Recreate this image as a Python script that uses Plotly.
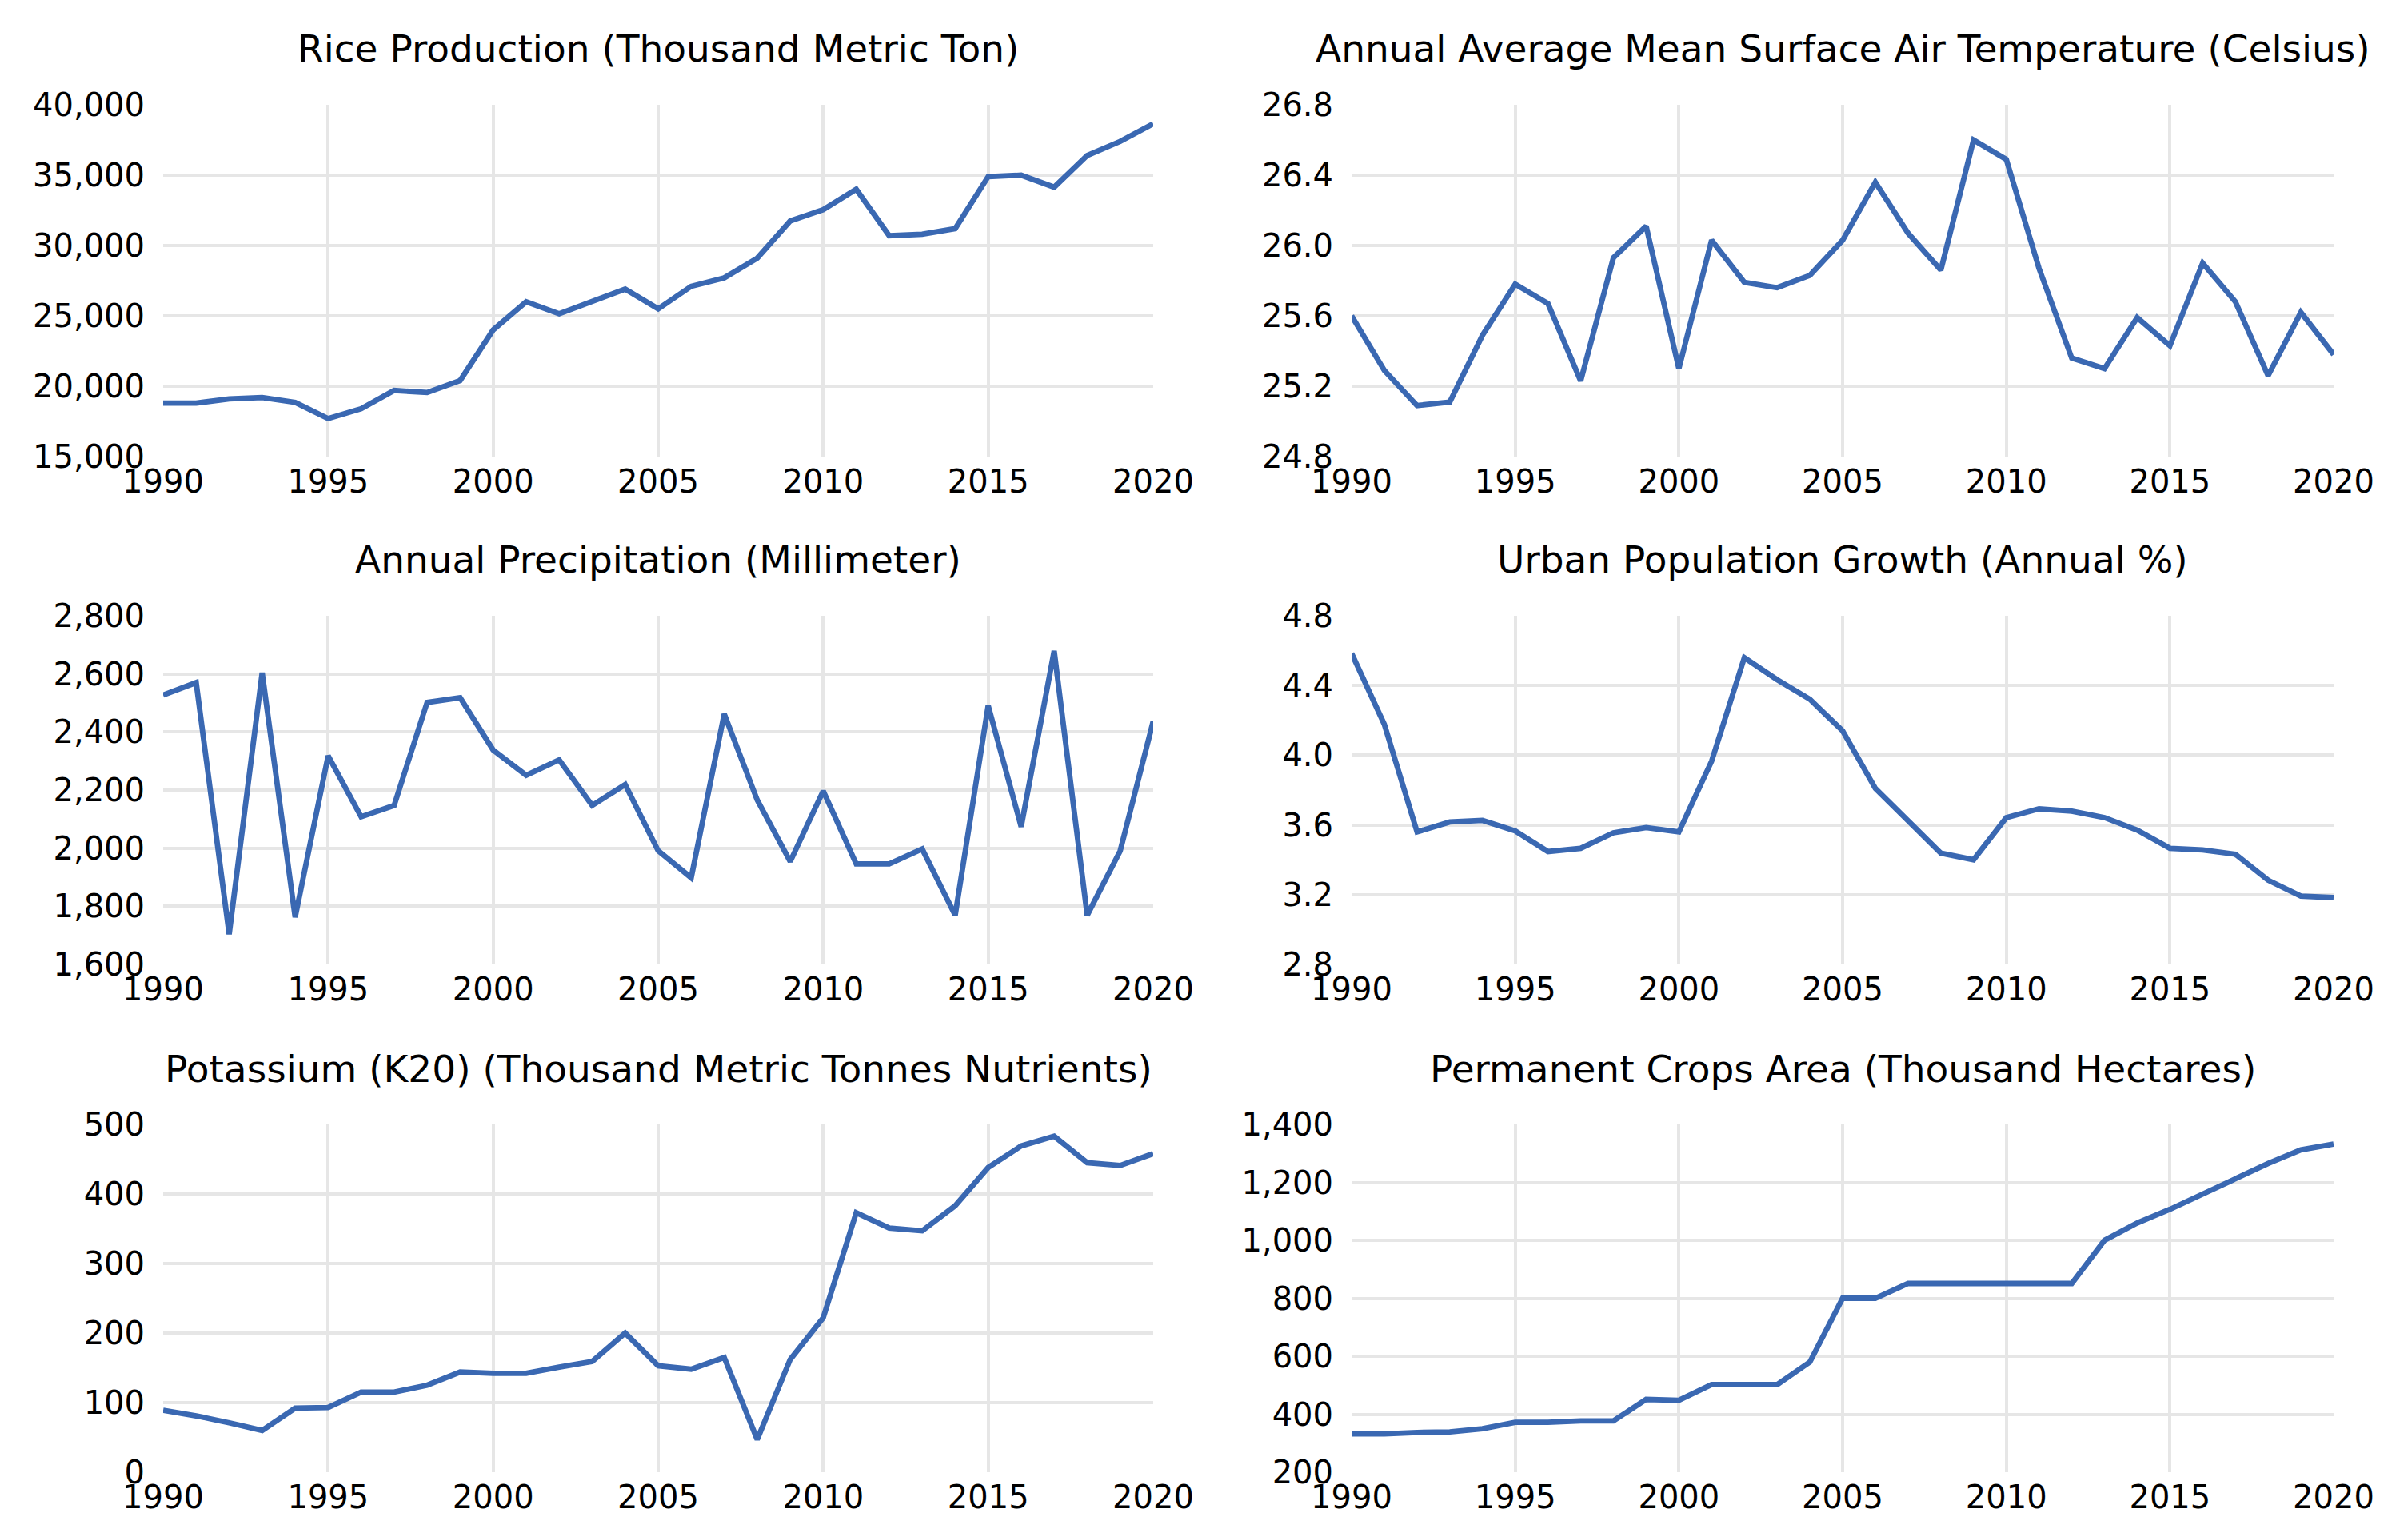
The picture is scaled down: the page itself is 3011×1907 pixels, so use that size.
import plotly.graph_objects as go

years = list(range(1990, 2021))

rice_production = [18800, 18800, 19100, 19200, 18850, 17700, 18400, 19700, 19550, 20400,
                   24000, 26000, 25150, 26000, 26900, 25500, 27100, 27700, 29100, 31750,
                   32550, 34000, 30700, 30800, 31200, 34900, 35000, 34150, 36400, 37400,
                   38650]

air_temperature = [25.60, 25.29, 25.09, 25.11, 25.49, 25.78, 25.67, 25.23, 25.93, 26.11,
                   25.30, 26.03, 25.79, 25.76, 25.83, 26.03, 26.36, 26.07, 25.86, 26.60,
                   26.49, 25.87, 25.36, 25.30, 25.59, 25.43, 25.90, 25.68, 25.26, 25.62,
                   25.38]

precipitation = [2527, 2570, 1704, 2604, 1762, 2318, 2108, 2147, 2502, 2518,
                 2338, 2251, 2304, 2147, 2219, 1991, 1898, 2462, 2166, 1954,
                 2197, 1946, 1946, 1997, 1769, 2491, 2074, 2679, 1769, 1991,
                 2437]

urban_growth = [4.585, 4.177, 3.560, 3.617, 3.626, 3.566, 3.447, 3.466, 3.555, 3.585,
                3.560, 3.966, 4.560, 4.434, 4.321, 4.140, 3.810, 3.623, 3.438, 3.400,
                3.642, 3.692, 3.679, 3.642, 3.570, 3.466, 3.457, 3.432, 3.283, 3.192,
                3.183]

potassium = [89, 81, 71, 60, 92, 93, 115, 115, 125, 144,
             142, 142, 151, 159, 200, 153, 148, 165, 47, 162,
             222, 373, 351, 347, 383, 438, 469, 483, 445, 441,
             458]

crops_area = [332, 332, 337, 339, 350, 372, 372, 377, 377, 451,
              448, 502, 502, 502, 580, 800, 800, 851, 851, 851,
              851, 851, 851, 1000, 1060, 1107, 1160, 1214, 1265, 1312,
              1332]

titles = ['Rice Production (Thousand Metric Ton)',
          'Annual Average Mean Surface Air Temperature (Celsius)',
          'Annual Precipitation (Millimeter)',
          'Urban Population Growth (Annual %)',
          'Potassium (K20) (Thousand Metric Tonnes Nutrients)',
          'Permanent Crops Area (Thousand Hectares)']

series = [rice_production, air_temperature, precipitation,
          urban_growth, potassium, crops_area]

y_ranges = [[15000, 40000], [24.8, 26.8], [1600, 2800],
            [2.8, 4.8], [0, 500], [200, 1400]]
y_dticks = [5000, 0.4, 200, 0.4, 100, 200]
y_formats = [',d', '.1f', ',d', '.1f', ',d', ',d']

# figure size; page body adds an 8px margin, so pixel boxes are shifted by it
W, H = 3011, 1907
col_px = [(196, 1434), (1682, 2910)]
row_px = [(123, 563), (762, 1198), (1398, 1833)]

LINE_COLOR = '#3A68B2'
GRID_COLOR = '#E6E6E6'
FONT = 'DejaVu Sans'

fig = go.Figure()
layout = {}
annotations = []

for i, (title, y) in enumerate(zip(titles, series)):
    r, c = divmod(i, 2)
    n = i + 1
    xa = 'x' if n == 1 else f'x{n}'
    ya = 'y' if n == 1 else f'y{n}'
    x0, x1 = col_px[c]
    top, bottom = row_px[r]
    xdom = [x0 / W, x1 / W]
    ydom = [1 - bottom / H, 1 - top / H]

    fig.add_trace(go.Scatter(x=years, y=y, mode='lines',
                             line=dict(color=LINE_COLOR, width=6.8),
                             xaxis=xa, yaxis=ya, showlegend=False))

    layout['xaxis' if n == 1 else f'xaxis{n}'] = dict(
        domain=xdom, anchor=ya, range=[1990, 2020], automargin=False,
        tickmode='array', tickvals=list(range(1990, 2021, 5)),
        showgrid=True, gridcolor=GRID_COLOR, gridwidth=3.5,
        zeroline=False, showline=False, ticks='',
        tickfont=dict(family=FONT, size=40, color='black'),
        ticklabelstandoff=4)
    layout['yaxis' if n == 1 else f'yaxis{n}'] = dict(
        domain=ydom, anchor=xa, range=y_ranges[i], automargin=False,
        dtick=y_dticks[i], tick0=y_ranges[i][0], tickformat=y_formats[i],
        showgrid=True, gridcolor=GRID_COLOR, gridwidth=3.5,
        zeroline=False, showline=False, ticks='',
        tickfont=dict(family=FONT, size=40, color='black'),
        ticklabelstandoff=22)

    annotations.append(dict(text=title, xref='paper', yref='paper',
                            x=(xdom[0] + xdom[1]) / 2, y=ydom[1],
                            xanchor='center', yanchor='middle', yshift=70,
                            showarrow=False,
                            font=dict(family=FONT, size=47, color='black')))

fig.update_layout(**layout)
fig.update_layout(width=W, height=H, margin=dict(l=0, r=0, t=0, b=0, pad=0),
                  paper_bgcolor='white', plot_bgcolor='white',
                  annotations=annotations)

fig.write_html("out.html")
